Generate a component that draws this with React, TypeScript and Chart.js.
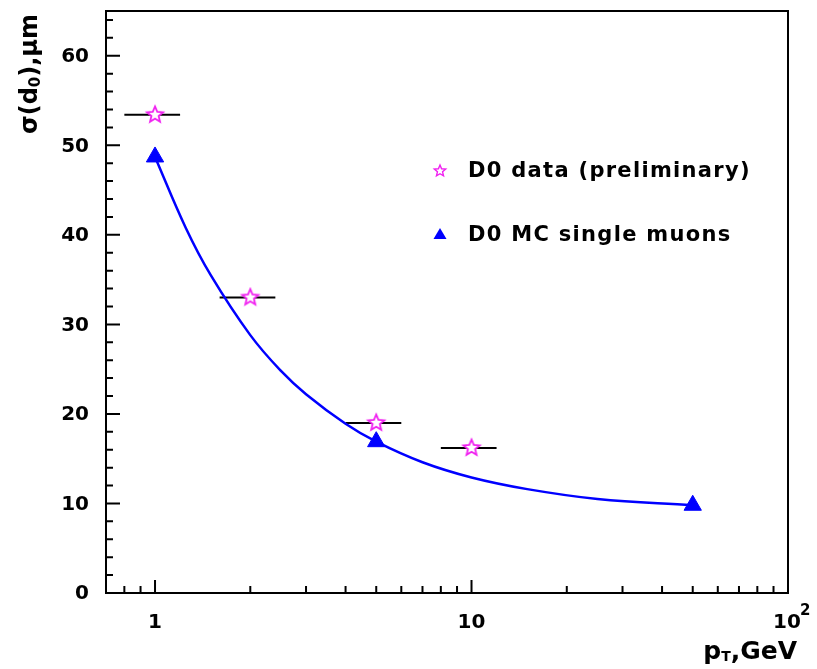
import React, { useEffect, useRef } from "react";
import { Chart, registerables } from "chart.js";
Chart.register(...registerables);

// D0 data (preliminary)
const dataPt = [1, 2, 5, 10];
const dataSigma = [53.4, 33.0, 19.0, 16.2];
const dataPtLow = [0.8, 1.6, 4, 8];
const dataPtHigh = [1.2, 2.4, 6, 12];
// D0 MC single muons
const mcPt = [1, 5, 50];
const mcSigma = [48.7, 16.9, 9.8];
// fitted curve through MC
const fitPt = [1, 1.25, 1.5, 2, 2.5, 3, 4, 5, 7, 10, 15, 25, 50];
const fitSigma = [48.7, 40.8, 35.5, 28.8, 24.8, 22.2, 18.9, 16.9, 14.6, 12.9, 11.6, 10.5, 9.8];
// axes
const yTicks = [0, 10, 20, 30, 40, 50, 60];
const yMinorTicks = [2, 4, 6, 8, 12, 14, 16, 18, 22, 24, 26, 28, 32, 34, 36, 38, 42, 44, 46, 48, 52, 54, 56, 58, 62, 64];
const xTicks = [1, 10, 100];
const xTickLabels = ["1", "10", "10^2"];
const xMinorTicks = [0.8, 0.9, 2, 3, 4, 5, 6, 7, 8, 9, 20, 30, 40, 50, 60, 70, 80, 90];
const legendLabels = ["D0 data (preliminary)", "D0 MC single muons"];

const STAR_COLOR = "#f020f0";
const BLUE = "#0000ff";
const FONT = "'DejaVu Sans', sans-serif";

function makeStar(size: number, outer: number, inner: number, lw: number) {
  const c = document.createElement("canvas");
  c.width = size;
  c.height = size;
  const g = c.getContext("2d")!;
  const cx = size / 2, cy = size / 2;
  g.beginPath();
  for (let i = 0; i < 10; i++) {
    const r = i % 2 === 0 ? outer : inner;
    const a = -Math.PI / 2 + (i * Math.PI) / 5;
    const px = cx + r * Math.cos(a), py = cy + r * Math.sin(a);
    if (i === 0) g.moveTo(px, py); else g.lineTo(px, py);
  }
  g.closePath();
  g.fillStyle = "#ffffff";
  g.fill();
  g.strokeStyle = STAR_COLOR;
  g.lineWidth = lw;
  g.lineJoin = "miter";
  g.stroke();
  return c;
}

export default function App() {
  const ref = useRef<HTMLCanvasElement | null>(null);
  useEffect(() => {
    const canvas = ref.current!;
    const star = makeStar(22, 8.5, 3.8, 1.8);
    const legendStar = makeStar(16, 6, 2.7, 1.4);

    const overlay = {
      id: "overlay",
      beforeDatasetsDraw(chart: any) {
        const ctx = chart.ctx;
        const xs = chart.scales.x, ys = chart.scales.y;
        ctx.save();
        ctx.strokeStyle = "#000";
        ctx.lineWidth = 2;
        for (let i = 0; i < dataPt.length; i++) {
          const y = ys.getPixelForValue(dataSigma[i]);
          ctx.beginPath();
          ctx.moveTo(xs.getPixelForValue(dataPtLow[i]), y);
          ctx.lineTo(xs.getPixelForValue(dataPtHigh[i]), y);
          ctx.stroke();
        }
        ctx.restore();
      },
      afterDraw(chart: any) {
        const ctx = chart.ctx;
        const xs = chart.scales.x, ys = chart.scales.y;
        const a = chart.chartArea;
        ctx.save();
        // frame
        ctx.strokeStyle = "#000";
        ctx.lineWidth = 2;
        ctx.strokeRect(a.left, a.top, a.right - a.left, a.bottom - a.top);
        // ticks
        ctx.beginPath();
        yTicks.forEach((v) => {
          const y = ys.getPixelForValue(v);
          ctx.moveTo(a.left, y);
          ctx.lineTo(a.left + 14, y);
        });
        yMinorTicks.forEach((v) => {
          const y = ys.getPixelForValue(v);
          ctx.moveTo(a.left, y);
          ctx.lineTo(a.left + 7, y);
        });
        xTicks.forEach((v) => {
          const x = xs.getPixelForValue(v);
          ctx.moveTo(x, a.bottom);
          ctx.lineTo(x, a.bottom - 13);
        });
        xMinorTicks.forEach((v) => {
          const x = xs.getPixelForValue(v);
          ctx.moveTo(x, a.bottom);
          ctx.lineTo(x, a.bottom - 7);
        });
        ctx.stroke();

        // tick labels
        ctx.fillStyle = "#000";
        ctx.font = `bold 20px ${FONT}`;
        ctx.textAlign = "right";
        ctx.textBaseline = "middle";
        yTicks.forEach((v) => {
          ctx.fillText(String(v), a.left - 17, ys.getPixelForValue(v) + 1);
        });
        xTicks.forEach((v, i) => {
          const x = xs.getPixelForValue(v);
          const lab = xTickLabels[i];
          if (lab.includes("^")) {
            const [base, exp] = lab.split("^");
            ctx.font = `bold 20px ${FONT}`;
            ctx.textAlign = "center";
            ctx.fillText(base, x - 1, 623);
            ctx.font = `bold 15px ${FONT}`;
            ctx.textAlign = "left";
            ctx.fillText(exp, x + 12, 611);
          } else {
            ctx.font = `bold 20px ${FONT}`;
            ctx.textAlign = "center";
            ctx.fillText(lab, x, 623);
          }
        });

        // y title: sigma(d0),mum rotated
        ctx.save();
        ctx.translate(31, 134);
        ctx.rotate(-Math.PI / 2);
        ctx.textAlign = "left";
        ctx.textBaseline = "middle";
        const big = `bold 24px ${FONT}`;
        const small = `bold 15px ${FONT}`;
        let px = 0;
        ctx.font = big;
        ctx.fillText("σ(d", px, 0);
        px += ctx.measureText("σ(d").width;
        ctx.font = small;
        ctx.fillText("0", px, 5);
        px += ctx.measureText("0").width;
        ctx.font = big;
        ctx.fillText("),μm", px, 0);
        ctx.restore();

        // x title: pT,GeV
        ctx.textBaseline = "alphabetic";
        ctx.textAlign = "left";
        const xb = `bold 25px ${FONT}`;
        const xs2 = `bold 14px ${FONT}`;
        ctx.font = xb;
        const w1 = ctx.measureText("p").width;
        const w3 = ctx.measureText(",GeV").width;
        ctx.font = xs2;
        const w2 = ctx.measureText("T").width;
        let sx = 797 - (w1 + w2 + w3);
        const by = 659;
        ctx.font = xb;
        ctx.fillText("p", sx, by);
        sx += w1;
        ctx.font = xs2;
        ctx.fillText("T", sx, by + 2);
        sx += w2;
        ctx.font = xb;
        ctx.fillText(",GeV", sx, by);

        // legend
        ctx.drawImage(legendStar, 440 - 8, 171 - 8);
        ctx.fillStyle = BLUE;
        ctx.beginPath();
        ctx.moveTo(440, 228);
        ctx.lineTo(446.5, 239);
        ctx.lineTo(433.5, 239);
        ctx.closePath();
        ctx.fill();
        ctx.fillStyle = "#000";
        ctx.font = `bold 21px ${FONT}`;
        (ctx as any).letterSpacing = "1.3px";
        ctx.textAlign = "left";
        ctx.textBaseline = "middle";
        ctx.fillText(legendLabels[0], 468, 172);
        ctx.fillText(legendLabels[1], 468, 236);
        (ctx as any).letterSpacing = "0px";
        ctx.restore();
      },
    };

    const chart = new Chart(canvas, {
      type: "scatter",
      data: {
        datasets: [
          {
            label: legendLabels[0],
            data: dataPt.map((x, i) => ({ x, y: dataSigma[i] })),
            pointStyle: star as any,
            pointRadius: 10,
            showLine: false,
            order: 0,
          },
          {
            label: legendLabels[1],
            data: mcPt.map((x, i) => ({ x, y: mcSigma[i] })),
            pointStyle: "triangle",
            pointRadius: 10,
            backgroundColor: BLUE,
            borderColor: BLUE,
            borderWidth: 1,
            showLine: false,
            order: 1,
          },
          {
            label: "fit",
            data: fitPt.map((x, i) => ({ x, y: fitSigma[i] })),
            showLine: true,
            pointRadius: 0,
            borderColor: BLUE,
            borderWidth: 2.5,
            tension: 0.4,
            fill: false,
            order: 2,
          },
        ],
      },
      options: {
        responsive: false,
        animation: false,
        events: [],
        layout: { padding: { left: 0, right: 29, top: 8, bottom: 0 } },
        plugins: { legend: { display: false }, tooltip: { enabled: false } },
        scales: {
          x: {
            type: "logarithmic",
            min: 0.7,
            max: 100,
            ticks: { display: false },
            grid: { display: false },
            border: { display: false },
            afterFit: (s: any) => { s.height = 76; },
          },
          y: {
            type: "linear",
            min: 0,
            max: 65,
            ticks: { display: false },
            grid: { display: false },
            border: { display: false },
            afterFit: (s: any) => { s.width = 106; },
          },
        },
      },
      plugins: [overlay],
    } as any);
    return () => chart.destroy();
  }, []);
  return (
    <canvas
      ref={ref}
      width={817}
      height={669}
      style={{ position: "absolute", left: 0, top: 0, display: "block", background: "#fff" }}
    />
  );
}
